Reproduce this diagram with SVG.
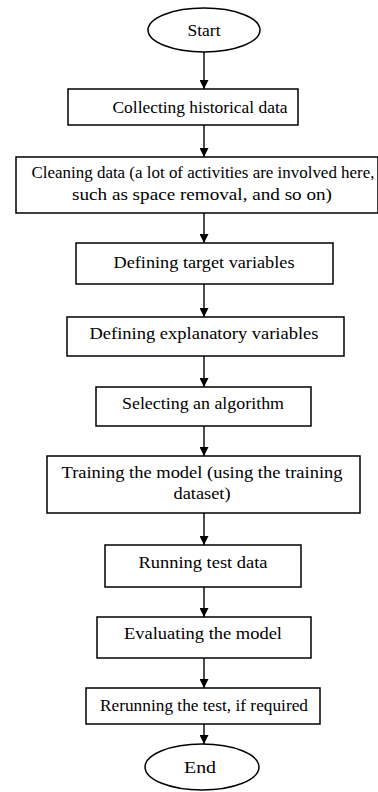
<svg xmlns="http://www.w3.org/2000/svg" width="378" height="792" viewBox="0 0 378 792">
<defs>
<marker id="ah" markerWidth="9" markerHeight="9" refX="9" refY="4.5" orient="auto" markerUnits="userSpaceOnUse">
<path d="M0,0 L9,4.5 L0,9 Z" fill="#000"/>
</marker>
</defs>
<style>
.box{fill:#fff;stroke:#000;stroke-width:1.5}
.t{font-family:'Liberation Serif','Times New Roman','DejaVu Serif',serif;font-size:17px;fill:#000;text-anchor:middle}
.c line{stroke:#000;stroke-width:1.4;marker-end:url(#ah)}
</style>
<rect width="378" height="792" fill="#fff"/>
<g id="start"><ellipse class="box" cx="204" cy="30" rx="56" ry="22"/><text class="t" x="204" y="36" textLength="33" lengthAdjust="spacingAndGlyphs">Start</text></g>
<g id="n1"><rect class="box" x="68" y="89" width="230" height="36"/><text class="t" x="200" y="113" textLength="175" lengthAdjust="spacingAndGlyphs">Collecting historical data</text></g>
<g id="n2"><rect class="box" x="16" y="157" width="362" height="56"/><text class="t" x="203" y="178" textLength="343" lengthAdjust="spacingAndGlyphs">Cleaning data (a lot of activities are involved here,</text><text class="t" x="202" y="200" textLength="260" lengthAdjust="spacingAndGlyphs">such as space removal, and so on)</text></g>
<g id="n3"><rect class="box" x="76" y="243" width="257" height="41"/><text class="t" x="204" y="268" textLength="181" lengthAdjust="spacingAndGlyphs">Defining target variables</text></g>
<g id="n4"><rect class="box" x="67" y="317" width="277" height="39"/><text class="t" x="204" y="339" textLength="229" lengthAdjust="spacingAndGlyphs">Defining explanatory variables</text></g>
<g id="n5"><rect class="box" x="96" y="387" width="215" height="39"/><text class="t" x="203" y="409" textLength="162" lengthAdjust="spacingAndGlyphs">Selecting an algorithm</text></g>
<g id="n6"><rect class="box" x="47" y="456" width="313" height="57"/><text class="t" x="202" y="478" textLength="281" lengthAdjust="spacingAndGlyphs">Training the model (using the training</text><text class="t" x="202" y="499" textLength="57" lengthAdjust="spacingAndGlyphs">dataset)</text></g>
<g id="n7"><rect class="box" x="105" y="545" width="196" height="42"/><text class="t" x="203" y="568" textLength="129" lengthAdjust="spacingAndGlyphs">Running test data</text></g>
<g id="n8"><rect class="box" x="97" y="617" width="214" height="41"/><text class="t" x="203" y="639" textLength="158" lengthAdjust="spacingAndGlyphs">Evaluating the model</text></g>
<g id="n9"><rect class="box" x="86" y="688" width="234" height="36"/><text class="t" x="204" y="711" textLength="208" lengthAdjust="spacingAndGlyphs">Rerunning the test, if required</text></g>
<g id="end"><ellipse class="box" cx="202" cy="767" rx="57" ry="23"/><text class="t" x="200" y="773" textLength="32" lengthAdjust="spacingAndGlyphs">End</text></g>
<g class="c" id="connectors">
<line x1="204" y1="52" x2="204" y2="89"/>
<line x1="204" y1="125" x2="204" y2="157"/>
<line x1="204" y1="213" x2="204" y2="243"/>
<line x1="204" y1="284" x2="204" y2="317"/>
<line x1="204" y1="356" x2="204" y2="387"/>
<line x1="204" y1="426" x2="204" y2="456"/>
<line x1="204" y1="513" x2="204" y2="545"/>
<line x1="204" y1="587" x2="204" y2="617"/>
<line x1="204" y1="658" x2="204" y2="688"/>
<line x1="204" y1="724" x2="204" y2="744"/>
</g>
</svg>
